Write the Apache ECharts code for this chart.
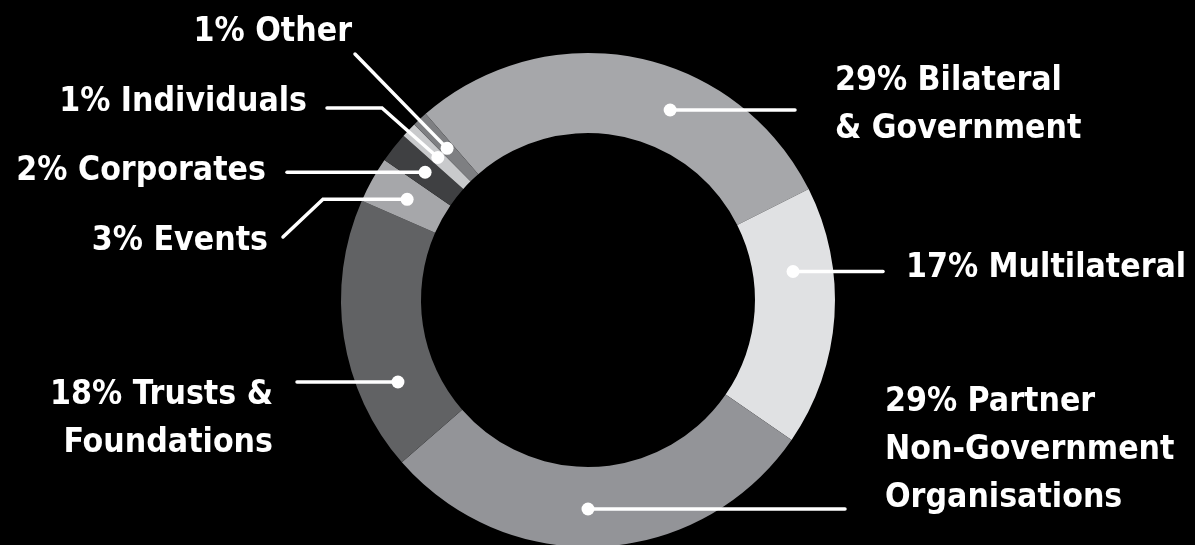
<!DOCTYPE html>
<html>
<head>
<meta charset="utf-8">
<script src="https://cdn.jsdelivr.net/npm/echarts@6/dist/echarts.min.js"></script>
<style>
html,body{margin:0;padding:0;background:#000;}
#chart{width:1195px;height:545px;}
</style>
</head>
<body>
<div id="chart"></div>
<script>
// ---- data ----
var categories = ['Bilateral\n& Government', 'Multilateral', 'Partner\nNon-Government\nOrganisations', 'Trusts &\nFoundations', 'Events', 'Corporates', 'Individuals', 'Other'];
var values = [29, 17, 29, 18, 3, 2, 1, 1];
var colors = ['#a6a7aa', '#e0e1e3', '#939498', '#616264', '#a6a7aa', '#3f4042', '#c9cacc', '#7e7f82'];

// ---- layout ----
var W = 1195, H = 545;
var CX = 588, CY = 300, R_IN = 167, R_OUT = 247, R_MID = (R_IN + R_OUT) / 2;
var START_CW = 318.9; // clockwise degrees from 12 o'clock where first slice starts
var labelCfg = [
  {align:'left',  x:835, y:105, lineY:110, pts:[[795,null]]},
  {align:'left',  x:906, y:268, lineY:271.5, pts:[[883,null]]},
  {align:'left',  x:885, y:450, lineY:509, pts:[[845,null]]},
  {align:'right', x:273, y:419, lineY:382, pts:[[297,null]]},
  {align:'right', x:268, y:241, lineY:null, pts:[[323,null],[283,237]]},
  {align:'right', x:266, y:171, lineY:null, pts:[[287,null]]},
  {align:'right', x:307, y:102, lineY:null, pts:[[382,108],[327,108]]},
  {align:'right', x:352, y:32,  lineY:null, pts:[[355,54]]}
];

// ---- font selection (narrow bold sans) ----
var cnv = document.createElement('canvas').getContext('2d');
function w(font, s){ cnv.font = font; return cnv.measureText(s).width; }
var probe = 'MMMWWmmmiiilll1234567890';
function available(f){
  return w('bold 100px "' + f + '", monospace', probe) !== w('bold 100px monospace', probe) ||
         w('bold 100px "' + f + '", serif', probe) !== w('bold 100px serif', probe);
}
var candidates = ['Liberation Sans Narrow', 'Arial Narrow', 'DejaVu Sans Condensed', 'Roboto Condensed', 'Roboto', 'Liberation Sans'];
var FONT = 'sans-serif';
for (var k = 0; k < candidates.length; k++) { if (available(candidates[k])) { FONT = candidates[k]; break; } }
var refWidth = 280; // average text width scale target for "17% Multilateral"
var FONT_SIZE = Math.round(refWidth / w('bold 100px "' + FONT + '"', '17% Multilateral') * 100 * 10) / 10;
if (FONT_SIZE > 42) FONT_SIZE = 42;

var total = values.reduce(function(a,b){return a+b;},0);
var dots = [];
var acc = START_CW;
values.forEach(function(v,i){
  var span = v / total * 360;
  var cfg = labelCfg[i];
  var px, py;
  if (cfg.lineY !== null) {
    var dy = cfg.lineY - CY;
    var dx = Math.sqrt(Math.max(0, R_MID*R_MID - dy*dy));
    px = CX + (cfg.align === 'left' ? dx : -dx);
    py = cfg.lineY;
  } else {
    var a = (acc + span/2) * Math.PI / 180;
    px = CX + R_MID * Math.sin(a);
    py = CY - R_MID * Math.cos(a);
  }
  dots.push([px, py]);
  acc += span;
});
var leaderLines = labelCfg.map(function(cfg, i){
  var d = dots[i];
  var pts = [[d[0], d[1]]];
  cfg.pts.forEach(function(p){ pts.push([p[0], p[1] === null ? d[1] : p[1]]); });
  return {coords: pts};
});

var pieData = values.map(function(v,i){
  return {value:v, name:categories[i], itemStyle:{color:colors[i]}};
});

var chart = echarts.init(document.getElementById('chart'));
chart.setOption({
  backgroundColor:'#000',
  animation:false,
  grid:{left:0,right:0,top:0,bottom:0},
  xAxis:{type:'value', min:0, max:W, show:false},
  yAxis:{type:'value', min:0, max:H, inverse:true, show:false},
  series:[
    {
      type:'pie',
      center:[CX, CY],
      radius:[R_IN, R_OUT],
      startAngle: 90 - START_CW + 360,
      clockwise:true,
      avoidLabelOverlap:false,
      silent:true,
      data:pieData,
      label:{
        show:true,
        formatter:function(p){ return p.value + '% ' + p.name; },
        color:'#fff',
        fontFamily:FONT,
        fontWeight:'bold',
        fontSize:FONT_SIZE,
        lineHeight:48
      },
      labelLine:{show:false},
      labelLayout:function(params){
        var cfg = labelCfg[params.dataIndex];
        return {x:cfg.x, y:cfg.y, align:cfg.align, verticalAlign:'middle'};
      },
      z:1
    },
    {
      type:'lines',
      coordinateSystem:'cartesian2d',
      polyline:true,
      silent:true,
      data:leaderLines,
      lineStyle:{color:'#fff', width:3.5, opacity:1, cap:'round', join:'miter'},
      z:4
    },
    {
      type:'scatter',
      data:dots,
      symbol:'circle',
      symbolSize:13,
      itemStyle:{color:'#fff', opacity:1},
      silent:true,
      z:5
    }
  ]
});
</script>
</body>
</html>
